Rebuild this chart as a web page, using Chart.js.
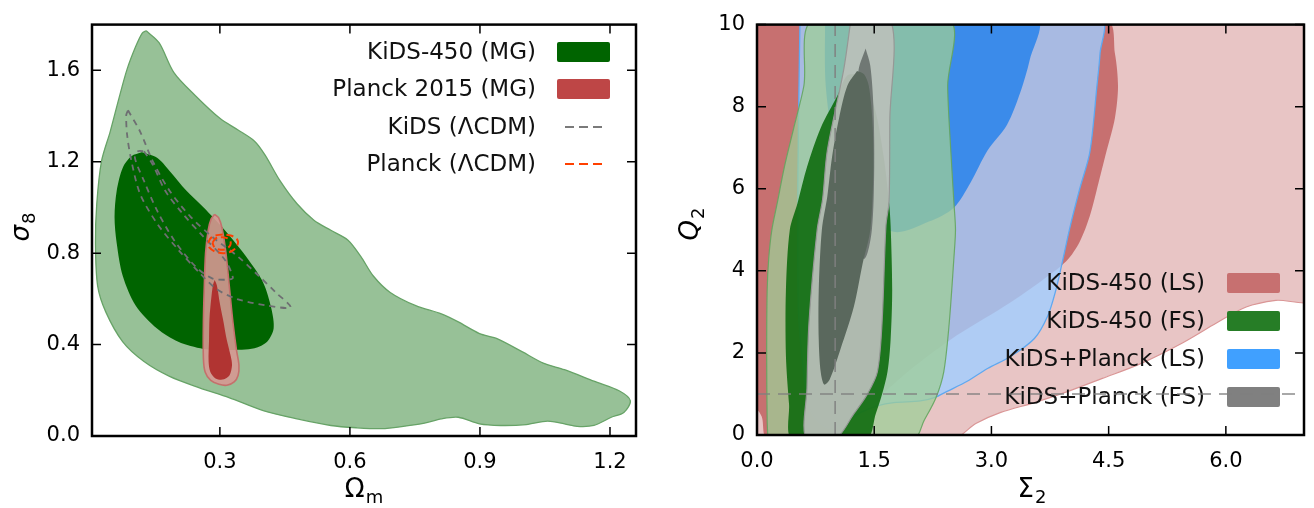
<!DOCTYPE html>
<html>
<head>
<meta charset="utf-8">
<script src="https://cdn.jsdelivr.net/npm/chart.js@4.4.1/dist/chart.umd.min.js"></script>
<style>
  html, body { margin: 0; padding: 0; background: #fff; }
  #wrap { position: relative; width: 1314px; height: 508px; }
  canvas { position: absolute; top: 0; }
</style>
</head>
<body>
<div id="wrap">
  <canvas id="left" width="660" height="508" style="left:0"></canvas>
  <canvas id="right" width="654" height="508" style="left:660px"></canvas>
</div>
<script>
const FONT = "'DejaVu Sans', sans-serif";

// ---- left panel: Omega_m / sigma_8 ----
const omTicks = [0.3, 0.6, 0.9, 1.2];
const s8Ticks = [0.0, 0.4, 0.8, 1.2, 1.6];

const kidsMG95 = [[0.130,1.773],[0.160,1.72],[0.194,1.59],[0.243,1.49],[0.300,1.39],[0.341,1.34],[0.380,1.29],[0.404,1.23],[0.439,1.116],[0.478,1.016],[0.517,0.944],[0.556,0.900],[0.595,0.858],[0.625,0.786],[0.654,0.700],[0.693,0.628],[0.752,0.570],[0.811,0.534],[0.850,0.499],[0.899,0.448],[0.938,0.427],[0.997,0.369],[1.046,0.319],[1.095,0.290],[1.163,0.240],[1.222,0.197],[1.247,0.154],[1.232,0.103],[1.203,0.082],[1.163,0.046],[1.124,0.042],[1.095,0.053],[1.056,0.065],[1.007,0.050],[0.948,0.046],[0.899,0.053],[0.850,0.082],[0.811,0.075],[0.772,0.056],[0.723,0.042],[0.674,0.032],[0.615,0.036],[0.556,0.046],[0.478,0.075],[0.400,0.111],[0.321,0.168],[0.253,0.211],[0.184,0.261],[0.125,0.326],[0.076,0.412],[0.037,0.542],[0.018,0.657],[0.013,0.843],[0.016,1.016],[0.027,1.203],[0.047,1.332],[0.067,1.476],[0.086,1.605],[0.106,1.705],[0.121,1.763],[0.130,1.773]];
const kidsMG68 = [[0.120,1.241],[0.155,1.217],[0.184,1.160],[0.223,1.073],[0.262,1.001],[0.311,0.901],[0.360,0.786],[0.400,0.671],[0.419,0.556],[0.424,0.470],[0.409,0.412],[0.380,0.384],[0.321,0.376],[0.262,0.381],[0.204,0.412],[0.155,0.470],[0.106,0.570],[0.076,0.700],[0.062,0.843],[0.057,0.958],[0.062,1.073],[0.076,1.174],[0.096,1.224],[0.120,1.241]];
const planckMG95 = [[0.288,0.970],[0.297,0.955],[0.305,0.91],[0.314,0.80],[0.322,0.65],[0.330,0.50],[0.338,0.38],[0.344,0.31],[0.342,0.265],[0.333,0.237],[0.316,0.222],[0.298,0.226],[0.279,0.243],[0.266,0.28],[0.262,0.34],[0.262,0.50],[0.264,0.65],[0.267,0.80],[0.273,0.90],[0.280,0.950],[0.288,0.970]];
const planckMG68 = [[0.288,0.683],[0.293,0.66],[0.300,0.58],[0.307,0.513],[0.316,0.42],[0.325,0.35],[0.328,0.31],[0.322,0.265],[0.307,0.247],[0.290,0.252],[0.278,0.28],[0.274,0.326],[0.275,0.42],[0.276,0.513],[0.280,0.60],[0.284,0.66],[0.288,0.683]];
const kidsLCDM95 = [[0.088,1.425],[0.116,1.332],[0.145,1.203],[0.184,1.073],[0.233,0.958],[0.282,0.872],[0.341,0.786],[0.390,0.700],[0.429,0.628],[0.463,0.563],[0.409,0.571],[0.340,0.599],[0.293,0.642],[0.253,0.714],[0.204,0.815],[0.155,0.930],[0.116,1.059],[0.096,1.203],[0.086,1.318],[0.084,1.404],[0.088,1.425]];
const kidsLCDM68 = [[0.125,1.246],[0.145,1.188],[0.174,1.073],[0.214,0.973],[0.262,0.872],[0.311,0.772],[0.330,0.693],[0.318,0.684],[0.282,0.690],[0.243,0.743],[0.194,0.858],[0.155,0.987],[0.125,1.116],[0.104,1.217],[0.111,1.246],[0.125,1.246]];
const planckLCDM95 = [[0.273,0.845],[0.280,0.868],[0.298,0.880],[0.322,0.878],[0.339,0.862],[0.341,0.838],[0.330,0.812],[0.310,0.800],[0.288,0.808],[0.275,0.826],[0.273,0.845]];
const planckLCDM68 = [[0.283,0.845],[0.290,0.864],[0.305,0.870],[0.320,0.862],[0.325,0.842],[0.318,0.822],[0.302,0.815],[0.288,0.825],[0.283,0.845]];
const leftLabels = ["KiDS-450 (MG)", "Planck 2015 (MG)", "KiDS (ΛCDM)", "Planck (ΛCDM)"];

// ---- right panel: Sigma_2 / Q_2 ----
const sigTicks = [0, 1.5, 3, 4.5, 6];
const qTicks = [0, 2, 4, 6, 8, 10];

const lsKids95 = [[-0.1,-0.1],[2.50,-0.1],[2.80,0.28],[3.12,0.55],[3.55,0.79],[3.99,1.07],[4.42,1.38],[4.91,1.74],[5.45,2.25],[5.88,2.73],[6.26,3.12],[6.64,3.28],[7.1,3.33],[7.1,10.1],[-0.1,10.1],[-0.1,-0.1]];
const lsKids68 = [[-0.1,10.1],[4.475,10.1],[4.58,9.3],[4.62,8.5],[4.58,7.72],[4.475,6.93],[4.37,6.14],[4.26,5.34],[4.13,4.71],[3.96,4.24],[3.6,3.7],[3.16,3.13],[2.48,2.33],[2.0,1.65],[1.6,1.0],[1.1,0.3],[0.9,-0.1],[0.13,-0.1],[0.06,0.45],[-0.1,1.0],[-0.1,10.1]];
const lsKP95 = [[0.55,10.1],[0.53,7.5],[0.52,5.0],[0.53,3.0],[0.57,2.0],[0.61,1.3],[0.66,0.75],[0.77,0.36],[0.94,0.16],[1.11,0.28],[1.33,0.55],[1.54,0.71],[1.75,0.79],[2.09,0.83],[2.27,0.91],[2.44,1.07],[2.69,1.31],[2.95,1.62],[3.25,1.92],[3.55,2.35],[3.72,2.9],[3.82,3.5],[3.90,4.15],[4.01,5.1],[4.13,6.0],[4.26,6.9],[4.35,8.5],[4.39,9.3],[4.40,10.1],[0.55,10.1]];
const lsKP68 = [[0.87,10.1],[3.58,10.1],[3.49,9.14],[3.37,8.35],[3.20,7.56],[2.95,6.93],[2.73,6.14],[2.52,5.54],[2.2,5.2],[1.75,4.95],[1.3,5.6],[1.0,7.0],[0.88,8.5],[0.87,10.1]];
const fsKids95 = [[0.14,-0.1],[0.13,0.36],[0.124,1.94],[0.13,3.52],[0.15,4.3],[0.19,5.0],[0.26,5.66],[0.35,6.53],[0.47,7.48],[0.60,8.51],[0.71,10.1],[2.46,10.1],[2.44,8.5],[2.48,6.93],[2.52,5.66],[2.54,5.0],[2.52,4.32],[2.46,2.73],[2.39,1.54],[2.29,0.91],[2.14,0.36],[2.0,-0.1],[0.14,-0.1]];
const fsKids68 = [[1.30,8.8],[1.15,8.75],[1.03,8.27],[0.815,7.48],[0.64,6.53],[0.52,5.66],[0.42,5.0],[0.37,3.52],[0.37,1.94],[0.41,0.75],[0.45,-0.1],[1.40,-0.1],[1.52,0.52],[1.60,0.99],[1.67,1.54],[1.71,2.33],[1.73,3.52],[1.71,5.1],[1.69,5.66],[1.62,6.8],[1.50,8.0],[1.30,8.8]];
const fsKP95 = [[1.20,10.1],[1.11,8.91],[0.90,6.93],[0.84,5.75],[0.77,5.0],[0.665,2.73],[0.64,1.15],[0.63,-0.1],[1.0,-0.1],[1.24,0.52],[1.41,0.99],[1.54,1.54],[1.60,2.73],[1.65,5.1],[1.69,5.7],[1.70,7.7],[1.71,10.1],[1.20,10.1]];
const fsKPtip = [[1.39,9.42],[1.45,9.0],[1.49,8.0],[1.50,6.5],[1.47,5.0],[1.38,4.3],[1.25,4.6],[1.20,6.0],[1.22,7.5],[1.30,8.9],[1.39,9.42]];
const fsKP68 = [[1.28,8.87],[1.37,8.79],[1.43,8.51],[1.475,7.72],[1.49,6.53],[1.45,5.0],[1.35,4.16],[1.24,3.13],[1.07,2.10],[0.93,1.35],[0.86,1.23],[0.815,1.54],[0.79,2.33],[0.79,3.52],[0.83,5.0],[0.90,5.82],[0.96,6.77],[1.05,7.72],[1.156,8.51],[1.28,8.87]];
const grSigma = [[1, 0], [1, 10]];
const grQ = [[0, 1], [7, 1]];
const rightLabels = ["KiDS-450 (LS)", "KiDS-450 (FS)", "KiDS+Planck (LS)", "KiDS+Planck (FS)"];

function pts(arr) { return arr.map(p => ({ x: p[0], y: p[1] })); }

// closed filled contour
function region(arr, fill, line, lw) {
  return {
    data: pts(arr), backgroundColor: fill,
    borderColor: line || 'rgba(0,0,0,0)', borderWidth: line ? (lw || 1) : 0,
    fill: 'shape', pointRadius: 0, tension: 0.3, clip: 0
  };
}
function dashed(arr, color, lw, dash, tension) {
  return {
    data: pts(arr), borderColor: color, borderWidth: lw, borderDash: dash,
    fill: false, pointRadius: 0, tension: tension, clip: 0, guide: true
  };
}
// datasets are listed bottom -> top
function layered(list) {
  list.forEach((d, i) => { d.order = list.length - i; });
  return list;
}

const leftSets = layered([
  region(kidsMG95, '#97c197', '#67a367', 1.3),
  region(kidsMG68, '#006400'),
  region(planckMG95, 'rgba(214,152,146,0.9)', 'rgba(196,112,108,1)', 1.6),
  region(planckMG68, 'rgba(172,38,36,0.88)'),
  dashed(kidsLCDM95, '#6e6e72', 1.8, [6, 5], 0.3),
  dashed(kidsLCDM68, '#6e6e72', 1.8, [6, 5], 0.3),
  dashed(planckLCDM95, '#ff4000', 2, [7, 4], 0.4),
  dashed(planckLCDM68, '#ff4000', 2, [7, 4], 0.4)
]);

const rightSets = layered([
  region(lsKids95, 'rgb(232,197,197)', 'rgb(218,150,150)', 1.2),
  region(lsKids68, 'rgb(199,112,112)'),
  region(lsKP95, 'rgba(160,205,255,0.8)', 'rgb(95,168,240)', 1.3),
  region(lsKP68, 'rgba(40,130,235,0.85)'),
  region(fsKids95, 'rgba(157,205,151,0.75)', 'rgba(100,165,95,0.9)', 1.2),
  region(fsKids68, 'rgba(10,105,10,0.88)'),
  region(fsKP95, 'rgba(186,191,186,0.93)', 'rgb(150,152,150)', 1.2),
  region(fsKPtip, 'rgb(112,120,116)'),
  region(fsKP68, 'rgb(90,104,93)'),
  dashed(grSigma, 'rgba(128,128,128,0.9)', 1.6, [13, 8], 0),
  dashed(grQ, 'rgba(128,128,128,0.9)', 1.6, [13, 8], 0)
]);

// layout and decoration for each canvas (pixels, not data)
const deco = {
  left: {
    yWidth: 92, xHeight: 72, pad: { left: 0, right: 24, top: 18, bottom: 0 },
    legend: { textRight: 536, boxLeft: 557, boxW: 53, boxH: 20, rows: [52, 89, 127, 164] },
    items: [
      { label: leftLabels[0], kind: 'box', color: '#006400' },
      { label: leftLabels[1], kind: 'box', color: '#be4646' },
      { label: leftLabels[2], kind: 'dash', color: '#7a7a7a' },
      { label: leftLabels[3], kind: 'dash', color: '#ff4000' }
    ],
    xTitle: { main: 'Ω', sub: 'm', x: 364, y: 497, italic: false },
    yTitle: { main: 'σ', sub: '8', x: 29, y: 227, italic: true }
  },
  right: {
    yWidth: 97, xHeight: 73, pad: { left: 0, right: 10, top: 14, bottom: 0 },
    legend: { textRight: 545, boxLeft: 567, boxW: 53, boxH: 20, rows: [283, 321, 359, 397] },
    items: [
      { label: rightLabels[0], kind: 'box', color: 'rgb(199,112,112)' },
      { label: rightLabels[1], kind: 'box', color: 'rgb(38,125,38)' },
      { label: rightLabels[2], kind: 'box', color: 'rgb(64,160,255)' },
      { label: rightLabels[3], kind: 'box', color: 'rgb(128,128,128)' }
    ],
    xTitle: { main: 'Σ', sub: '2', x: 372, y: 497, italic: false },
    yTitle: { main: 'Q', sub: '2', x: 38, y: 224, italic: true }
  }
};

function drawLegend(chart, d) {
  const ctx = chart.ctx, L = d.legend;
  ctx.save();
  ctx.font = `23px ${FONT}`;
  ctx.textAlign = 'right';
  ctx.textBaseline = 'middle';
  d.items.forEach((it, i) => {
    const cy = L.rows[i];
    ctx.fillStyle = '#111';
    ctx.fillText(it.label, L.textRight, cy + 1);
    if (it.kind === 'box') {
      ctx.fillStyle = it.color;
      ctx.beginPath();
      ctx.roundRect(L.boxLeft, cy - L.boxH / 2, L.boxW, L.boxH, 2);
      ctx.fill();
    } else {
      ctx.strokeStyle = it.color;
      ctx.lineWidth = 2;
      ctx.setLineDash([9, 5]);
      ctx.beginPath();
      ctx.moveTo(L.boxLeft + 8, cy);
      ctx.lineTo(L.boxLeft + 45, cy);
      ctx.stroke();
      ctx.setLineDash([]);
    }
  });
  ctx.restore();
}

function subLabel(ctx, t, rot) {
  ctx.save();
  ctx.translate(t.x, t.y);
  ctx.rotate(rot);
  const mf = `${t.italic ? 'italic ' : ''}26px ${FONT}`;
  const sf = `18px ${FONT}`;
  ctx.font = mf; const mw = ctx.measureText(t.main).width;
  ctx.font = sf; const sw = ctx.measureText(t.sub).width;
  const x0 = -(mw + sw + 1) / 2;
  ctx.fillStyle = '#000';
  ctx.textAlign = 'left';
  ctx.textBaseline = 'alphabetic';
  ctx.font = mf; ctx.fillText(t.main, x0, 0);
  ctx.font = sf; ctx.fillText(t.sub, x0 + mw + 1, 6);
  ctx.restore();
}

const decor = {
  id: 'decor',
  beforeDraw(chart) { chart.$legendDone = false; },
  beforeDatasetDraw(chart, args) {
    // legend sits under the dashed guide lines but over the contours
    const ds = chart.data.datasets[args.index];
    if (ds.guide && !chart.$legendDone) {
      drawLegend(chart, deco[chart.canvas.id]);
      chart.$legendDone = true;
    }
  },
  afterDatasetsDraw(chart) {
    if (!chart.$legendDone) drawLegend(chart, deco[chart.canvas.id]);
    chart.$legendDone = true;
  },
  afterDraw(chart) {
    const d = deco[chart.canvas.id];
    const { ctx, chartArea: a, scales: { x, y } } = chart;
    ctx.save();
    ctx.strokeStyle = '#000';
    ctx.lineWidth = 1.5;
    ctx.beginPath();
    x.ticks.forEach(t => {
      const px = x.getPixelForValue(t.value);
      ctx.moveTo(px, a.bottom); ctx.lineTo(px, a.bottom - 9);
      ctx.moveTo(px, a.top); ctx.lineTo(px, a.top + 9);
    });
    y.ticks.forEach(t => {
      const py = y.getPixelForValue(t.value);
      ctx.moveTo(a.left, py); ctx.lineTo(a.left + 9, py);
      ctx.moveTo(a.right, py); ctx.lineTo(a.right - 9, py);
    });
    ctx.stroke();
    ctx.lineWidth = 2.5;
    ctx.strokeRect(a.left, a.top, a.right - a.left, a.bottom - a.top);
    ctx.restore();
    subLabel(ctx, d.xTitle, 0);
    subLabel(ctx, d.yTitle, -Math.PI / 2);
  }
};

function makeChart(id, datasets, xr, yr, xTicks, yTicks, xFmt, yFmt) {
  const d = deco[id];
  return new Chart(document.getElementById(id), {
    type: 'line',
    data: { datasets },
    options: {
      responsive: false,
      animation: false,
      events: [],
      layout: { padding: d.pad, autoPadding: false },
      elements: { point: { radius: 0 } },
      plugins: { legend: { display: false }, tooltip: { enabled: false } },
      scales: {
        x: {
          type: 'linear', min: xr[0], max: xr[1],
          afterBuildTicks: s => { s.ticks = xTicks.map(v => ({ value: v })); },
          afterFit: s => { s.height = d.xHeight; },
          grid: { display: false, drawTicks: false },
          border: { display: false },
          ticks: { padding: 14, color: '#000', font: { family: FONT, size: 21 }, maxRotation: 0, callback: xFmt }
        },
        y: {
          type: 'linear', min: yr[0], max: yr[1],
          afterBuildTicks: s => { s.ticks = yTicks.map(v => ({ value: v })); },
          afterFit: s => { s.width = d.yWidth; },
          grid: { display: false, drawTicks: false },
          border: { display: false },
          ticks: { padding: 12, color: '#000', font: { family: FONT, size: 21 }, callback: yFmt }
        }
      }
    },
    plugins: [decor]
  });
}

makeChart('left', leftSets, [0.005, 1.26], [0, 1.8], omTicks, s8Ticks,
  v => v.toFixed(1), v => v.toFixed(1));
makeChart('right', rightSets, [0, 7], [0, 10], sigTicks, qTicks,
  v => v.toFixed(1), v => String(v));
</script>
</body>
</html>
